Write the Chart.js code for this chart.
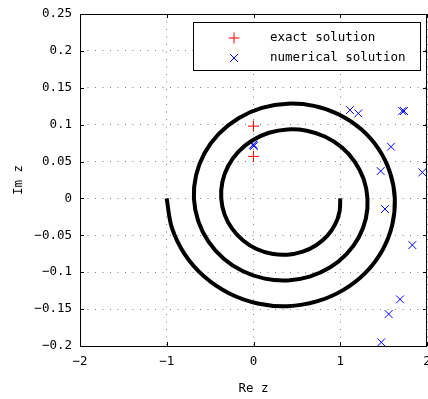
<!DOCTYPE html>
<html>
<head>
<meta charset="utf-8">
<script src="https://cdn.jsdelivr.net/npm/chart.js@4/dist/chart.umd.min.js"></script>
<style>
  body { margin: 0; background: #fff; }
  #wrap { width: 428px; height: 399px; }
</style>
</head>
<body>
<div id="wrap"><canvas id="chart"></canvas></div>
<script>
// spiral contour, every 15 deg (clockwise, from the inner end at 1 + 0i)
const spiralRe = [1.000, 0.992, 0.941, 0.850, 0.722, 0.567, 0.393, 0.212, 0.036, -0.120,
                  -0.247, -0.334, -0.372, -0.359, -0.292, -0.176, -0.016, 0.178, 0.393, 0.614,
                  0.827, 1.017, 1.168, 1.270, 1.314, 1.296, 1.214, 1.072, 0.880, 0.648,
                  0.393, 0.130, -0.121, -0.343, -0.519, -0.637, -0.687, -0.662, -0.565, -0.398,
                  -0.173, 0.096, 0.393, 0.696, 0.985, 1.239, 1.441, 1.574, 1.629, 1.599,
                  1.486, 1.295, 1.037, 0.729, 0.393, 0.049, -0.278, -0.565, -0.792, -0.941, -1.001];
const spiralIm = [0, -0.0178, -0.0352, -0.0508, -0.0634, -0.0722, -0.0762, -0.0750, -0.0685, -0.0569,
                  -0.0410, -0.0216, 0, 0.0223, 0.0439, 0.0631, 0.0785, 0.0890, 0.0936, 0.0918,
                  0.0836, 0.0693, 0.0497, 0.0261, 0, -0.0269, -0.0526, -0.0754, -0.0937, -0.1059,
                  -0.1111, -0.1087, -0.0987, -0.0816, -0.0584, -0.0306, 0, 0.0314, 0.0613, 0.0878,
                  0.1088, 0.1227, 0.1285, 0.1255, 0.1138, 0.0940, 0.0672, 0.0351, 0, -0.0359,
                  -0.0701, -0.1001, -0.1239, -0.1396, -0.1460, -0.1424, -0.1289, -0.1063, -0.0759, -0.0397, 0];

// exact solution (red +)
const exactRe = [0, 0];
const exactIm = [0.098, 0.057];

// numerical solution (blue x)
const numRe = [-0.004, 0.004, 0.0, 1.112, 1.208, 1.715, 1.735, 1.585, 1.466, 1.946,
               1.516, 1.831, 1.689, 1.558, 1.473];
const numIm = [0.073, 0.071, 0.0725, 0.1198, 0.1153, 0.1185, 0.1185, 0.0701, 0.0371, 0.0354,
               -0.0144, -0.0632, -0.1368, -0.1567, -0.1950];

const xTicks = [-2, -1, 0, 1, 2];
const yTicks = [-0.2, -0.15, -0.1, -0.05, 0, 0.05, 0.1, 0.15, 0.2, 0.25];

const legendLabels = ["exact solution", "numerical solution"];

const MONO = "'DejaVu Sans Mono', 'Liberation Mono', monospace";

function pts(xs, ys) {
  return xs.map((x, i) => ({ x: x, y: ys[i] }));
}

function fmt(v) {
  // long minus like the original
  let s = String(Math.round(v * 100) / 100);
  return s.replace("-", "\u2212");
}

// frame, inner tick marks and the boxed legend
const boxPlugin = {
  id: "box",
  afterDraw(chart) {
    const ctx = chart.ctx;
    const a = chart.chartArea;
    const xs = chart.scales.x, ys = chart.scales.y;
    ctx.save();
    ctx.strokeStyle = "#000";
    ctx.lineWidth = 1;
    ctx.strokeRect(Math.round(a.left) + 0.5, Math.round(a.top) + 0.5,
                   Math.round(a.right - a.left) - 1, Math.round(a.bottom - a.top));
    const tl = 4;
    ctx.beginPath();
    xTicks.forEach(v => {
      const px = Math.round(xs.getPixelForValue(v)) + 0.5;
      ctx.moveTo(px, a.bottom); ctx.lineTo(px, a.bottom - tl);
      ctx.moveTo(px, a.top); ctx.lineTo(px, a.top + tl);
    });
    yTicks.forEach(v => {
      const py = Math.round(ys.getPixelForValue(v)) + 0.5;
      ctx.moveTo(a.left, py); ctx.lineTo(a.left + tl, py);
      ctx.moveTo(a.right, py); ctx.lineTo(a.right - tl, py);
    });
    ctx.stroke();

    // legend
    const lx = 193, ly = 22, lw = 227, lh = 48;
    ctx.fillStyle = "#fff";
    ctx.fillRect(lx, ly, lw, lh);
    ctx.strokeStyle = "#000";
    ctx.strokeRect(lx + 0.5, ly + 0.5, lw, lh);
    const mx = 234;
    // red +
    ctx.strokeStyle = "#ff0000";
    ctx.beginPath();
    ctx.moveTo(mx - 5.5, 38); ctx.lineTo(mx + 5.5, 38);
    ctx.moveTo(mx, 32.5); ctx.lineTo(mx, 43.5);
    ctx.stroke();
    // blue x
    ctx.strokeStyle = "#0000ff";
    ctx.beginPath();
    ctx.moveTo(mx - 3.9, 58 - 3.9); ctx.lineTo(mx + 3.9, 58 + 3.9);
    ctx.moveTo(mx - 3.9, 58 + 3.9); ctx.lineTo(mx + 3.9, 58 - 3.9);
    ctx.stroke();
    ctx.fillStyle = "#000";
    ctx.font = "12.5px " + MONO;
    ctx.textBaseline = "middle";
    ctx.textAlign = "left";
    ctx.fillText(legendLabels[0], 270, 38);
    ctx.fillText(legendLabels[1], 270, 58);
    ctx.restore();
  }
};

new Chart(document.getElementById("chart"), {
  type: "scatter",
  data: {
    datasets: [
      {
        label: "contour",
        data: pts(spiralRe, spiralIm),
        showLine: true,
        borderColor: "#000",
        borderWidth: 4,
        pointRadius: 0,
        tension: 0.34,
        fill: false
      },
      {
        label: legendLabels[0],
        data: pts(exactRe, exactIm),
        pointStyle: "cross",
        pointRadius: 5.5,
        borderColor: "#ff0000",
        borderWidth: 1
      },
      {
        label: legendLabels[1],
        data: pts(numRe, numIm),
        pointStyle: "crossRot",
        pointRadius: 5.5,
        borderColor: "#0000ff",
        borderWidth: 1
      }
    ]
  },
  options: {
    responsive: true,
    maintainAspectRatio: false,
    animation: false,
    devicePixelRatio: 1,
    layout: { autoPadding: false, padding: { top: 14, right: 1, left: 0, bottom: 0 } },
    plugins: {
      legend: { display: false },
      tooltip: { enabled: false }
    },
    scales: {
      x: {
        type: "linear",
        min: -2,
        max: 2,
        afterBuildTicks: s => { s.ticks = xTicks.map(v => ({ value: v })); },
        afterFit: s => { s.height = 53; s.paddingLeft = 0; s.paddingRight = 0; },
        ticks: {
          color: "#000",
          font: { family: MONO, size: 12.5 },
          padding: 8,
          maxRotation: 0,
          callback: v => fmt(v)
        },
        grid: { color: "#808080", lineWidth: 1, drawTicks: false },
        border: { display: false, dash: [1, 6.5] },
        title: {
          display: true,
          text: "Re z",
          color: "#000",
          font: { family: MONO, size: 12.5 },
          padding: { top: 4, bottom: 3 }
        }
      },
      y: {
        type: "linear",
        min: -0.2,
        max: 0.25,
        afterBuildTicks: s => { s.ticks = yTicks.map(v => ({ value: v })); },
        afterFit: s => { s.width = 80; s.paddingTop = 0; s.paddingBottom = 0; },
        ticks: {
          color: "#000",
          font: { family: MONO, size: 12.5 },
          padding: 8,
          callback: v => fmt(v)
        },
        grid: { color: "#808080", lineWidth: 1, drawTicks: false },
        border: { display: false, dash: [1, 6.5] },
        title: {
          display: true,
          text: "Im z",
          color: "#000",
          font: { family: MONO, size: 12.5 },
          padding: { top: 11, bottom: 4 }
        }
      }
    }
  },
  plugins: [boxPlugin]
});
</script>
</body>
</html>
